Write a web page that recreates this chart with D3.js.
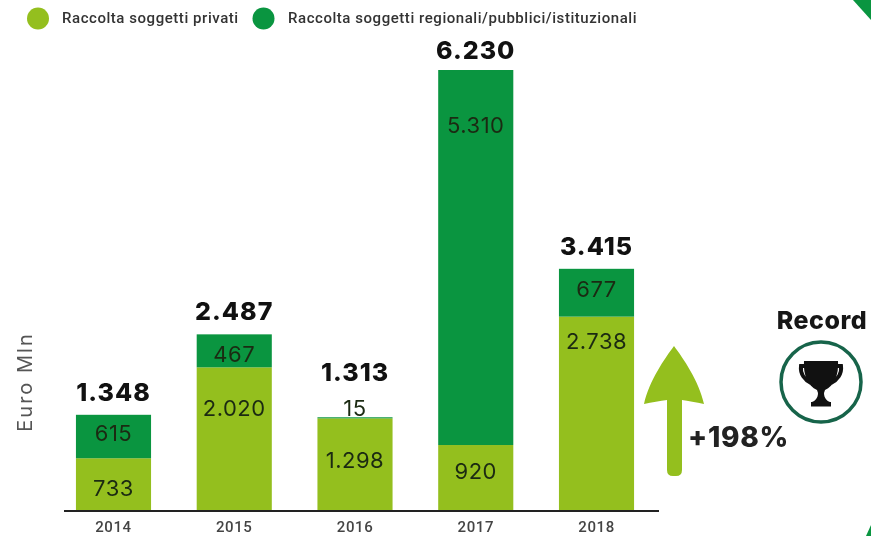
<!DOCTYPE html>
<html>
<head>
<meta charset="utf-8">
<script src="https://cdn.jsdelivr.net/npm/d3@7"></script>
<style>
  html, body { margin: 0; padding: 0; background: #fff; }
  svg { display: block; filter: blur(0.45px); }
  text { font-family: Inter, Roboto, sans-serif; }
</style>
</head>
<body>
<div id="chart"></div>
<script>
// chart values
var years = ["2014", "2015", "2016", "2017", "2018"];
var privati = [733, 2020, 1298, 920, 2738];
var istituzionali = [615, 467, 15, 5310, 677];
var totali = [1348, 2487, 1313, 6230, 3415];
var legendNames = ["Raccolta soggetti privati", "Raccolta soggetti regionali/pubblici/istituzionali"];

var colorPrivati = "#94bf1e",
    colorIstituzionali = "#0a9540",
    colorText = "#1b2a12";

// labels sit by hand in the original, pixel centre for every segment
var privatiLabelY = [488, 408, 460, 471, 341];
var istituzionaliLabelY = [433, 354, 408, 125, 289];
// gap between bar top and total, 2016 leaves room for its "15"
var totalGap = [14, 14, 36, 11, 14];

var width = 871, height = 536;
var baseline = 510;

var svg = d3.select("#chart").append("svg")
    .attr("width", width).attr("height", height);

var xScale = d3.scaleBand().domain(years).range([53, 657]).paddingInner(0.378).paddingOuter(0.19);
var yScale = d3.scaleLinear().domain([0, 6230]).range([baseline, 70]);

// dotted Italian thousands
var fmt = function(v) { return d3.format(",")(v).replace(/,/g, "."); };

//---- corner decorations
svg.append("path").attr("d", "M853,0 L871,0 L871,20 Z").style("fill", colorIstituzionali);
svg.append("path").attr("d", "M866,536 L871,525 L871,536 Z").style("fill", colorIstituzionali);

//---- legend
var legendX = [38, 263.5], legendTextX = [62, 288];
legendNames.forEach(function(name, i) {
    svg.append("circle").attr("cx", legendX[i]).attr("cy", 18.5).attr("r", 11)
        .style("fill", i === 0 ? colorPrivati : colorIstituzionali);
    svg.append("text").attr("x", legendTextX[i]).attr("y", 23)
        .style("font-family", "Roboto").style("font-size", "15px").style("font-weight", 500)
        .style("letter-spacing", "0.55px")
        .style("fill", "#333").text(name);
});

//---- bars
var g = svg.append("g");
years.forEach(function(year, i) {
    var x = xScale(year), w = xScale.bandwidth();
    var topPrivati = yScale(privati[i]);
    var topTotal = yScale(privati[i] + istituzionali[i]);

    g.append("rect").attr("x", x).attr("y", topPrivati)
        .attr("width", w).attr("height", baseline - topPrivati)
        .style("fill", colorPrivati);
    g.append("rect").attr("x", x).attr("y", topTotal)
        .attr("width", w).attr("height", topPrivati - topTotal)
        .style("fill", colorIstituzionali);

    g.append("text").attr("x", x + w / 2).attr("y", privatiLabelY[i])
        .attr("dy", "0.36em").attr("text-anchor", "middle")
        .style("font-size", "22px").style("letter-spacing", "0.5px").style("fill", colorText)
        .text(fmt(privati[i]));
    g.append("text").attr("x", x + w / 2).attr("y", istituzionaliLabelY[i])
        .attr("dy", "0.36em").attr("text-anchor", "middle")
        .style("font-size", "22px").style("letter-spacing", "0.5px").style("fill", colorText)
        .text(fmt(istituzionali[i]));

    g.append("text").attr("x", x + w / 2).attr("y", topTotal - totalGap[i])
        .attr("text-anchor", "middle")
        .style("font-size", "25px").style("font-weight", 800).style("letter-spacing", "1px").style("fill", "#111")
        .text(fmt(totali[i]));
});

//---- x axis
var xAxis = d3.axisBottom(xScale).tickSize(0).tickPadding(11);
var axisG = svg.append("g").attr("transform", "translate(0," + baseline + ")").call(xAxis);
axisG.select(".domain").attr("d", "M64,1H659").style("stroke", "#222").style("stroke-width", 2);
axisG.selectAll("text")
    .style("font-family", "Roboto").style("font-size", "15px").style("font-weight", 500)
    .style("letter-spacing", "0.6px").style("fill", "#444");

// y axis name
svg.append("text").attr("transform", "translate(32,382) rotate(-90)")
    .attr("text-anchor", "middle")
    .style("font-size", "20px").style("letter-spacing", "2px").style("fill", "#555")
    .text("Euro Mln");

//---- growth arrow
svg.append("path")
    .attr("d", "M674,346 C683,358 699,381 704,404 C696,402 688,401 682,400 L682,470 Q682,476 676,476 L673,476 Q667,476 667,470 L667,400 C660,401 652,402 644,404 C649,381 665,358 674,346 Z")
    .style("fill", colorPrivati);
svg.append("text").attr("x", 688).attr("y", 447)
    .style("font-size", "28px").style("font-weight", 800).style("letter-spacing", "0.7px").style("fill", "#222")
    .text("+198%");

//---- record badge
svg.append("text").attr("x", 822).attr("y", 329).attr("text-anchor", "middle")
    .style("font-size", "25px").style("font-weight", 800).style("letter-spacing", "0.5px").style("fill", "#161616")
    .text("Record");
svg.append("circle").attr("cx", 821).attr("cy", 382).attr("r", 40)
    .style("fill", "none").style("stroke", "#17644a").style("stroke-width", 3.5);
var trophy = svg.append("g");
trophy.append("path")
    .attr("d", "M804,361 L838,361 C839,375 834,386 825,390 L824,393 C824,398 827,401 830,402 L812,402 C815,401 818,398 818,393 L817,390 C808,386 803,375 804,361 Z")
    .style("fill", "#111");
trophy.append("path")
    .attr("d", "M806,366 L801,366 C800,374 805,380 811,383 M836,366 L841,366 C842,374 837,380 831,383")
    .style("fill", "none").style("stroke", "#111").style("stroke-width", 4);
trophy.append("rect").attr("x", 811).attr("y", 402).attr("width", 20).attr("height", 4.5).style("fill", "#111");
</script>
</body>
</html>
